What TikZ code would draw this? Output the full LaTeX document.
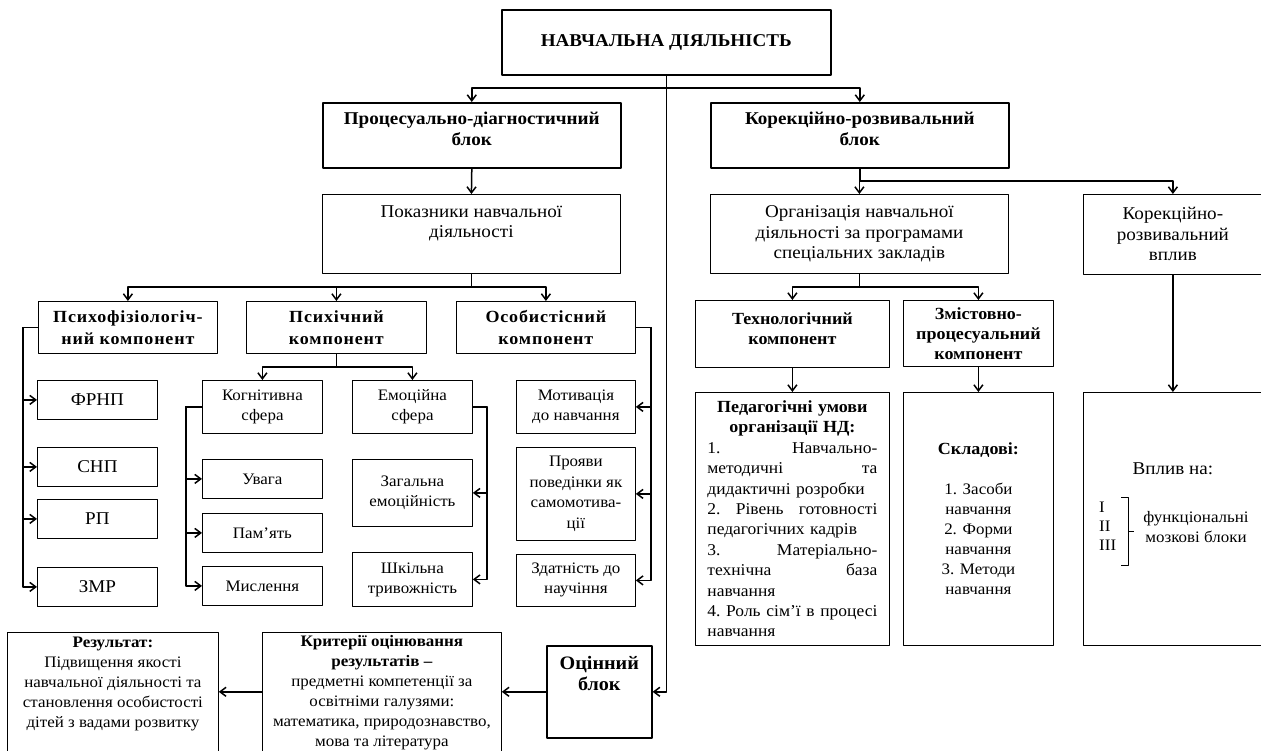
\documentclass[tikz,border=0pt]{standalone}
\usepackage{fontspec}
\setmainfont{Liberation Serif}[FakeStretch=1.06]
\newfontfamily\spacedrm{Liberation Serif}[LetterSpace=5,FakeStretch=1.06]
\usetikzlibrary{arrows.meta}
\begin{document}
\begin{tikzpicture}[x=1pt,y=-1pt,>={Straight Barb[length=6pt,width=9pt]},line join=round,
  box/.style={draw,line width=0.8pt,anchor=north west,align=center,inner sep=1pt,font=\fontsize{16}{20}\selectfont},
  bigbox/.style={box,line width=1.6pt,font=\bfseries\fontsize{18}{21}\selectfont},
  midbox/.style={box,font=\fontsize{18}{20.5}\selectfont},
  compbox/.style={box,font=\spacedrm\bfseries\fontsize{17}{22}\selectfont},
  techbox/.style={box,font=\bfseries\fontsize{17}{20}\selectfont},
  abbr/.style={box,minimum width=120pt,minimum height=39pt,font=\fontsize{18}{20}\selectfont},
  wh/.style 2 args={minimum width=#1pt,minimum height=#2pt},
  conn/.style={line width=1.5pt}]
\useasboundingbox (0,0) rectangle (1261,750);
\node[bigbox,wh={329}{65}] (main) at (501,9) {НАВЧАЛЬНА ДІЯЛЬНІСТЬ};
\node[bigbox,wh={298}{65}] (proc) at (322,102) {Процесуально-діагностичний\\блок\\[-8pt]\mbox{}};
\node[bigbox,wh={298}{65}] (korekc) at (710,102) {Корекційно-розвивальний\\блок\\[-8pt]\mbox{}};
\node[midbox,wh={298}{79}] (pokaz) at (322,194) {Показники навчальної\\діяльності\\[4pt]\mbox{}};
\node[midbox,wh={298}{79}] (org) at (710,194) {Організація навчальної\\діяльності за програмами\\спеціальних закладів};
\node[midbox,wh={179}{80}] (kvplyv) at (1083,194) {Корекційно-\\розвивальний\\вплив};
\node[compbox,wh={179}{52}] (psyfiz) at (38,301) {Психофізіологіч-\\ний компонент};
\node[compbox,wh={180}{52}] (psych) at (246,301) {Психічний\\компонент};
\node[compbox,wh={179}{52}] (osob) at (456,301) {Особистісний\\компонент};
\foreach \n/\t/\y in {frnp/ФРНП/380,snp/СНП/447,rp/РП/499,zmr/ЗМР/567}
  \node[abbr] (\n) at (37,\y) {\t};
\node[box,wh={120}{53}] (kogn) at (202,380) {Когнітивна\\сфера};
\node[box,wh={120}{53}] (emoc) at (352,380) {Емоційна\\сфера};
\foreach \n/\t/\y in {uvaha/Увага/459,pamyat/Пам’ять/513,myslen/Мислення/566}
  \node[box,wh={120}{39}] (\n) at (202,\y) {\t};
\node[box,wh={120}{67}] (zagal) at (352,459) {Загальна\\емоційність};
\node[box,wh={120}{54}] (shkil) at (352,552) {Шкільна\\тривожність};
\node[box,wh={119}{53}] (motyv) at (516,380) {Мотивація\\до навчання};
\node[box,wh={119}{93},font=\fontsize{16}{20.7}\selectfont] (proyav) at (516,447) {Прояви\\поведінки як\\самомотива-\\ції};
\node[box,wh={119}{52}] (zdatn) at (516,554) {Здатність до\\научіння};
\node[techbox,wh={194}{67}] (tech) at (695,300) {Технологічний\\компонент\\[-10pt]\mbox{}};
\node[techbox,wh={150}{66}] (zmist) at (903,300) {Змістовно-\\процесуальний\\компонент};
\node[box,wh={194}{253},text width=170pt,align=left,font=\fontsize{16.5}{20.4}\selectfont] (umovy) at (695,392)
  {{\centering\bfseries\fontsize{17}{20.4}\selectfont Педагогічні умови\\організації НД:\par}
   1.\hfill Навчально-\\
   методичні\hfill та\\
   дидактичні розробки\\
   2.\hfill Рівень\hfill готовності\\
   педагогічних кадрів\\
   3.\hfill Матеріально-\\
   технічна\hfill база\\
   навчання\\
   4.\hfill Роль\hfill сім’ї\hfill в\hfill процесі\\
   навчання};
\node[box,wh={150}{253}] (sklad) at (903,392)
  {\textbf{\fontsize{17}{20}\selectfont Складові:}\\[20pt]1. Засоби\\навчання\\2. Форми\\навчання\\3. Методи\\навчання};
\node[box,wh={179}{253},font=\fontsize{18}{20}\selectfont] (vplyv) at (1083,392) {Вплив на:\\[80pt]\mbox{}};
\node[anchor=west,align=left,inner sep=0pt,font=\fontsize{16}{19}\selectfont] (rom) at (1099,526) {I\\II\\III};
\node[align=center,inner sep=0pt,font=\fontsize{16}{20}\selectfont] (funk) at (1196,527) {функціональні\\мозкові блоки};
\draw[line width=0.8pt] (1121,497) -- (1128,497) -- (1128,565) -- (1121,565) (1128,531) -- (1134,531);
\node[box,line width=1.6pt,wh={105}{92},font=\bfseries\fontsize{19}{21}\selectfont] (ocin) at (546,645) {Оцінний\\блок\\[16pt]\mbox{}};
\node[box,wh={239}{120}] (kryt) at (262,632) {\textbf{Критерії оцінювання}\\\textbf{результатів –}\\предметні компетенції за\\освітніми галузями:\\математика, природознавство,\\мова та література};
\node[box,wh={211}{120}] (rez) at (7,632) {\textbf{Результат:}\\Підвищення якості\\навчальної діяльності та\\становлення особистості\\дітей з вадами розвитку\\\mbox{}};
\coordinate (s1) at (main.south |- 0,88);
\draw[conn,->] (s1) -| (proc.north);
\draw[conn,->] (s1) -| (korekc.north);
\draw[conn,->] (main.south) |- (ocin.east);
\draw[conn,->] (proc.south) -- (pokaz.north);
\coordinate (s2) at (pokaz.south |- 0,287);
\draw[conn] (pokaz.south) -- (s2);
\foreach \n in {psyfiz,psych,osob} \draw[conn,->] (s2) -| (\n.north);
\coordinate (s3) at (psych.south |- 0,367);
\draw[conn] (psych.south) -- (s3);
\foreach \n in {kogn,emoc} \draw[conn,->] (s3) -| (\n.north);
\foreach \n in {frnp,snp,rp,zmr} \draw[conn,->] (psyfiz.west) -- ++(-15,0) |- (\n.west);
\foreach \n in {uvaha,pamyat,myslen} \draw[conn,->] (kogn.west) -- ++(-16,0) |- (\n.west);
\foreach \n in {zagal,shkil} \draw[conn,->] (emoc.east) -- ++(14,0) |- (\n.east);
\foreach \n in {motyv,proyav,zdatn} \draw[conn,->] (osob.east) -- ++(15,0) |- (\n.east);
\coordinate (s4) at (korekc.south |- 0,181);
\draw[conn] (korekc.south) -- (s4);
\foreach \n in {org,kvplyv} \draw[conn,->] (s4) -| (\n.north);
\coordinate (s5) at (org.south |- 0,287);
\draw[conn] (org.south) -- (s5);
\foreach \n in {tech,zmist} \draw[conn,->] (s5) -| (\n.north);
\draw[conn,->] (tech.south) -- (umovy.north);
\draw[conn,->] (zmist.south) -- (sklad.north);
\draw[conn,->] (kvplyv.south) -- (vplyv.north);
\draw[conn,->] (ocin.west) -- (ocin.west -| kryt.east);
\draw[conn,->] (kryt.west |- ocin.west) -- (rez.east |- ocin.west);
\end{tikzpicture}
\end{document}
